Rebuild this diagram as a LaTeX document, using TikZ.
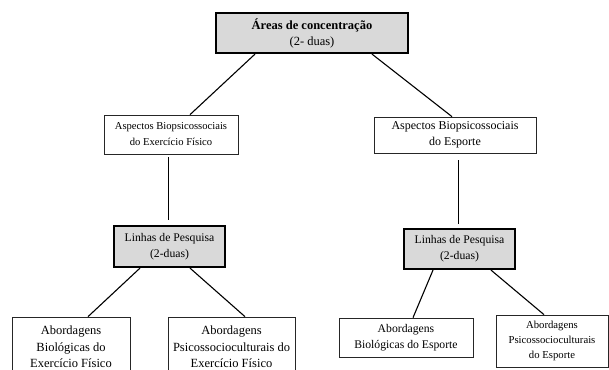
\documentclass[tikz,border=0pt]{standalone}
\usepackage{fontspec}
\setmainfont{Liberation Serif}
\usetikzlibrary{calc}

\tikzset{
	box/.style={draw=black!85, line width=0.7pt, rectangle, align=center, fill=white, inner sep=0pt},
	keybox/.style={draw=black, line width=2.2pt, rectangle, align=center, fill=black!15, inner sep=0pt},
	link/.style={line width=1.1pt},
}

\begin{document}
\begin{tikzpicture}
	\useasboundingbox (0,0) rectangle (609pt,-369pt);
	\clip (0,0) rectangle (609pt,-369pt);

	\node[keybox, minimum width=192pt, minimum height=40pt, font=\fontsize{12.5}{16}\selectfont] (AREA) at (312pt,-33pt) {\textbf{Áreas de concentração}\\(2- duas)};

	\node[box, below of=AREA, node distance=101.5pt, xshift=-141pt, minimum width=134pt, minimum height=39pt, font=\fontsize{10.6}{16}\selectfont] (ASP1) {Aspectos Biopsicossociais\\do Exercício Físico};
	\node[box, below of=AREA, node distance=102pt, xshift=143pt, minimum width=162pt, minimum height=36pt, font=\fontsize{12}{16}\selectfont] (ASP2) {Aspectos Biopsicossociais\\do Esporte};

	\node[keybox, below of=ASP1, node distance=112pt, xshift=-1.5pt, minimum width=111pt, minimum height=41pt, font=\fontsize{11.7}{16}\selectfont] (LIN1) {Linhas de Pesquisa\\(2-duas)};
	\node[keybox, below of=ASP2, node distance=114pt, xshift=4.5pt, minimum width=111pt, minimum height=40pt, font=\fontsize{11.7}{16}\selectfont] (LIN2) {Linhas de Pesquisa\\(2-duas)};

	\node[box, below of=LIN1, node distance=100.5pt, xshift=-98.5pt, minimum width=118pt, minimum height=60pt, font=\fontsize{12.5}{16.5}\selectfont] (ABD1) {Abordagens\\Biológicas do\\Exercício Físico};
	\node[box, below of=LIN1, node distance=100.5pt, xshift=62pt, minimum width=127pt, minimum height=60pt, font=\fontsize{12.5}{16.5}\selectfont] (ABD2) {Abordagens\\Psicossocioculturais do\\Exercício Físico};
	\node[box, below of=LIN2, node distance=88.5pt, xshift=-53.5pt, minimum width=134pt, minimum height=39pt, font=\fontsize{11.7}{16}\selectfont] (ABD3) {Abordagens\\Biológicas do Esporte};
	\node[box, below of=LIN2, node distance=92pt, xshift=92.5pt, minimum width=112pt, minimum height=52pt, font=\fontsize{10.7}{15}\selectfont] (ABD4) {Abordagens\\Psicossocioculturais\\do Esporte};

	\draw[link] ([xshift=-57pt]AREA.south) -- ([xshift=19pt]ASP1.north);
	\draw[link] ([xshift=60pt]AREA.south) -- ([xshift=-3pt]ASP2.north);

	\draw[link, shorten <=3pt, shorten >=5pt] ([xshift=-2.6pt]ASP1.south) -- ([xshift=-1.1pt]LIN1.north);
	\draw[link, shorten <=7pt, shorten >=4pt] ([xshift=3.4pt]ASP2.south) -- ([xshift=-1.1pt]LIN2.north);

	\draw[link] ([xshift=-29.5pt]LIN1.south) -- ([xshift=17pt]ABD1.north);
	\draw[link] ([xshift=20.5pt]LIN1.south) -- ([xshift=13.5pt]ABD2.north);
	\draw[link] ([xshift=-26.5pt]LIN2.south) -- ([xshift=7pt]ABD3.north);
	\draw[link] ([xshift=31.5pt]LIN2.south) -- ([xshift=-8pt]ABD4.north);
\end{tikzpicture}
\end{document}
